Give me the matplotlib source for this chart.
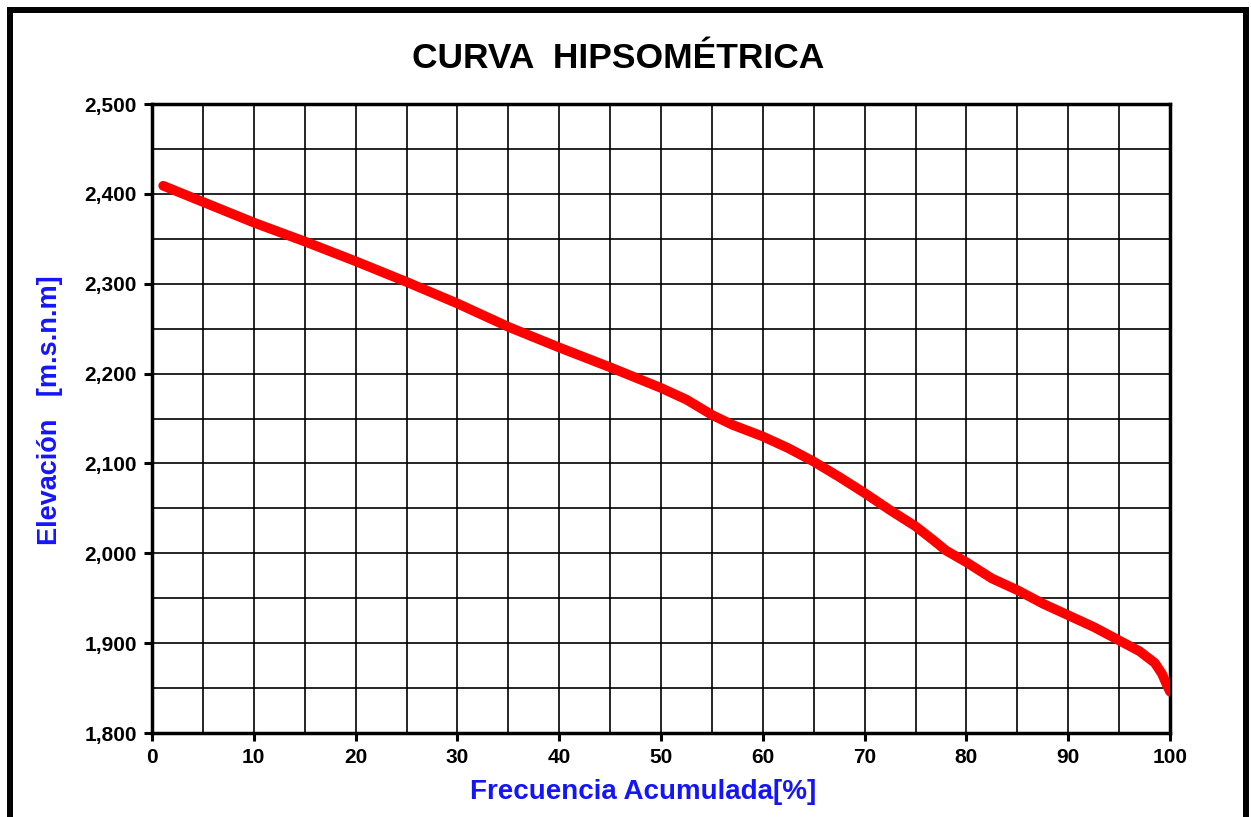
import matplotlib

matplotlib.use("Agg")

import matplotlib.pyplot as plt
from matplotlib.patches import Rectangle
from matplotlib.ticker import FuncFormatter, MultipleLocator

plt.rcParams["font.family"] = ["Liberation Sans", "DejaVu Sans"]

# cumulative frequency (%) and elevation (m.s.n.m)
frecuencia = [1.1, 5, 10, 15, 20, 25, 30, 35, 40, 45, 50, 52.5, 55, 57, 60,
              62.5, 65, 67.5, 70, 72.5, 75, 76.7, 78, 80, 82.5, 85, 87.5, 90,
              92.5, 95, 97, 98.5, 99.2, 99.7, 100]
elevacion = [2409, 2391, 2368, 2347, 2325, 2302, 2278, 2252, 2229, 2207, 2184,
             2171, 2154, 2143, 2130, 2117, 2102, 2085, 2067, 2048, 2030, 2015,
             2003, 1990, 1972, 1959, 1944, 1931, 1918, 1903, 1891, 1878, 1866,
             1853, 1846]

fig = plt.figure(figsize=(12.51, 8.17), dpi=100)
fig.patch.set_facecolor("white")

# thick outer frame, bottom edge runs off the image
fig.patches.append(Rectangle((0.0076, -0.05), 0.9884, 1.0378, transform=fig.transFigure,
                             fill=False, edgecolor="black", linewidth=4.3, clip_on=False))

ax = fig.add_axes([0.1215, 0.1028, 0.8138, 0.7699])
ax.plot(frecuencia, elevacion, color="#ff0000", linewidth=7,
        solid_capstyle="round", solid_joinstyle="round", zorder=3)

ax.set_xlim(0, 100)
ax.set_ylim(1800, 2500)
ax.xaxis.set_major_locator(MultipleLocator(10))
ax.xaxis.set_minor_locator(MultipleLocator(5))
ax.yaxis.set_major_locator(MultipleLocator(100))
ax.yaxis.set_minor_locator(MultipleLocator(50))
ax.yaxis.set_major_formatter(FuncFormatter(lambda v, p: f"{v:,.0f}"))

ax.grid(True, which="both", color="black", linewidth=1.2)
ax.set_axisbelow(True)
ax.tick_params(which="major", direction="out", length=6, width=2.2,
               labelsize=15, pad=5)
ax.tick_params(which="minor", length=0)
for label in ax.get_xticklabels() + ax.get_yticklabels():
    label.set_fontweight("bold")
for spine in ax.spines.values():
    spine.set_linewidth(2.5)

fig.text(0.494, 0.928, "CURVA  HIPSOMÉTRICA", ha="center", va="center",
         fontsize=25.5, fontweight="bold", color="black")
fig.text(0.514, 0.030, "Frecuencia Acumulada[%]", ha="center", va="center",
         fontsize=20, fontweight="bold", color="#1414ff")
fig.text(0.040, 0.498, "Elevación   [m.s.n.m]", ha="center", va="center",
         rotation=90, fontsize=19.5, fontweight="bold", color="#1414ff")

fig.savefig("out.png", dpi=100, facecolor=fig.get_facecolor())
plt.close(fig)
